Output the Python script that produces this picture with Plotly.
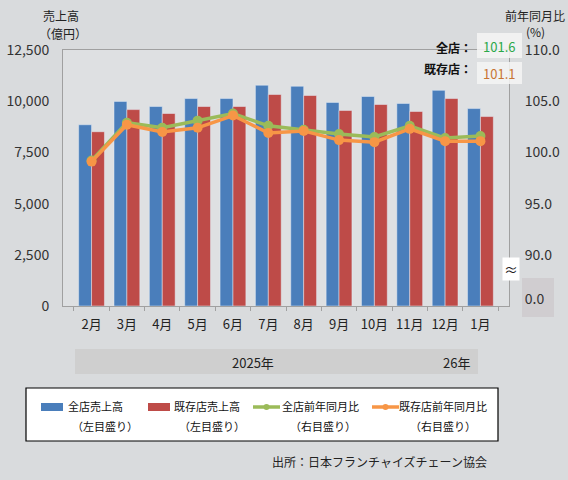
import plotly.graph_objects as go

months = ["2月", "3月", "4月", "5月", "6月", "7月", "8月", "9月", "10月", "11月", "12月", "1月"]

# 売上高（億円）
sales_all = [8850, 9990, 9740, 10130, 10130, 10780, 10730, 9940, 10230, 9890, 10530, 9640]
sales_existing = [8510, 9590, 9400, 9740, 9740, 10330, 10280, 9550, 9840, 9500, 10130, 9250]

# 前年同月比（%）
yoy_all = [99.2, 102.9, 102.4, 103.1, 103.8, 102.6, 102.2, 101.8, 101.5, 102.6, 101.4, 101.6]
yoy_existing = [99.1, 102.7, 102.0, 102.4, 103.6, 101.9, 102.1, 101.2, 101.0, 102.3, 101.1, 101.1]

left_ticks = [0, 2500, 5000, 7500, 10000, 12500]
right_ticks = [85.7, 90, 95, 100, 105, 110]
right_labels = ["0.0", "90.0", "95.0", "100.0", "105.0", "110.0"]

legend_names = ["全店売上高", "既存店売上高", "全店前年同月比", "既存店前年同月比"]
legend_notes = ["（左目盛り）", "（左目盛り）", "（右目盛り）", "（右目盛り）"]
colors = ["#4a7ebb", "#be4b48", "#9bbb59", "#f79646"]

W, H = 568, 480
L, R, T, B = 63, 509, 50, 306
FONT = "Noto Sans CJK JP"


def px(x, y):
    # pixel -> paper coords
    return (x - L) / (R - L), (B - y) / (B - T)


fig = go.Figure()
fig.add_trace(go.Bar(x=months, y=sales_all, name=legend_names[0],
                     marker_color=colors[0], yaxis="y"))
fig.add_trace(go.Bar(x=months, y=sales_existing, name=legend_names[1],
                     marker_color=colors[1], yaxis="y"))
fig.add_trace(go.Scatter(x=months, y=yoy_all, name=legend_names[2],
                         mode="lines+markers", yaxis="y2",
                         line=dict(color=colors[2], width=3.5),
                         marker=dict(size=10, color=colors[2])))
fig.add_trace(go.Scatter(x=months, y=yoy_existing, name=legend_names[3],
                         mode="lines+markers", yaxis="y2",
                         line=dict(color=colors[3], width=3.5),
                         marker=dict(size=10, color=colors[3])))

fig.update_layout(
    width=W, height=H,
    margin=dict(l=L, r=W - R, t=T, b=H - B, autoexpand=False),
    paper_bgcolor="#d9dbdd",
    plot_bgcolor="#dee0e2",
    font=dict(family=FONT, size=13, color="#222"),
    barmode="group", bargap=0.27, bargroupgap=0,
    showlegend=False,
    xaxis=dict(showline=True, linecolor="#a0a0a0", mirror=True, automargin=False,
               ticks="outside", tickson="boundaries", ticklen=4, tickcolor="#a0a0a0",
               tickangle=0, ticklabelstandoff=6, tickfont=dict(size=13, color="#222")),
    yaxis=dict(range=[0, 12500], tickvals=left_ticks, tickformat=",", automargin=False,
               showgrid=False, zeroline=False, showline=True, linecolor="#a0a0a0",
               ticklabelstandoff=10, tickfont=dict(size=14, color="#333")),
    yaxis2=dict(range=[85, 110], overlaying="y", side="right", automargin=False,
                tickvals=right_ticks, ticktext=right_labels,
                showgrid=False, zeroline=False, showline=True, linecolor="#a0a0a0",
                ticklabelstandoff=12, tickfont=dict(size=14, color="#333")),
)

shapes = []


def rect(a, b, c, d, **kw):
    x0, y0 = px(a, b)
    x1, y1 = px(c, d)
    shapes.append(dict(type="rect", xref="paper", yref="paper",
                       x0=x0, y0=y0, x1=x1, y1=y1, **kw))


# 年の帯
rect(75, 349, 478, 374, fillcolor="#cfcfcf", line_width=0, layer="below")
# 右軸 0.0 の背景
rect(522, 278, 554, 317, fillcolor="#d0cdd0", line_width=0, layer="below")
# 数値ボックス
rect(477, 33, 522, 58, fillcolor="rgba(245,245,245,0.85)", line_width=0)
rect(477, 62, 522, 84, fillcolor="rgba(245,245,245,0.85)", line_width=0)
# 凡例枠
rect(26, 388, 498, 441, fillcolor="white", line=dict(color="black", width=1.2))


def note(text, x, y, anchor="left", size=13, color="#222", **kw):
    ax, ay = px(x, y)
    fig.add_annotation(text=text, xref="paper", yref="paper", x=ax, y=ay,
                       xanchor=anchor, yanchor="middle", showarrow=False,
                       font=dict(family=FONT, size=size, color=color), **kw)


# 凡例
sym_x = [41, 148, 253, 372]
txt_x = [66, 172, 280, 397]
note_x = [70, 177, 288, 408]
for i in range(4):
    if i < 2:
        rect(sym_x[i], 403, sym_x[i] + 22, 411, fillcolor=colors[i], line_width=0)
    else:
        x0, y0 = px(sym_x[i], 407)
        x1, _ = px(sym_x[i] + 27, 407)
        shapes.append(dict(type="line", xref="paper", yref="paper", x0=x0, y0=y0,
                           x1=x1, y1=y0, line=dict(color=colors[i], width=3.5)))
        cx, cy = sym_x[i] + 13.5, 407
        rect(cx - 3, cy - 3, cx + 3, cy + 3, fillcolor=colors[i], line_width=0)
        shapes[-1]["type"] = "circle"
    note(legend_names[i], txt_x[i], 406, size=11, color="#111")
    note(legend_notes[i], note_x[i], 426, size=11, color="#111")

fig.update_layout(shapes=shapes)

note("売上高", 41, 15, size=12)
note("（億円）", 37, 33, size=12)
note("前年同月比", 503, 15, size=12)
note("(%)", 524, 31, size=12)
note("<b>全店：</b>", 474, 47, anchor="right", size=12, color="#111")
note("101.6", 499, 46, anchor="center", size=13, color="#2aa84a")
note("<b>既存店：</b>", 474, 68, anchor="right", size=12, color="#111")
note("101.1", 499, 73, anchor="center", size=13, color="#c87533")
note("≈", 511, 269, anchor="center", size=14, color="#222", bgcolor="white")
note("2025年", 253, 362, anchor="center", size=13)
note("26年", 456, 362, anchor="center", size=13)
note("出所：日本フランチャイズチェーン協会", 489, 461, anchor="right", size=12)

fig.write_html("out.html", config={"displayModeBar": False},
               post_script="document.body.style.margin='0';")
